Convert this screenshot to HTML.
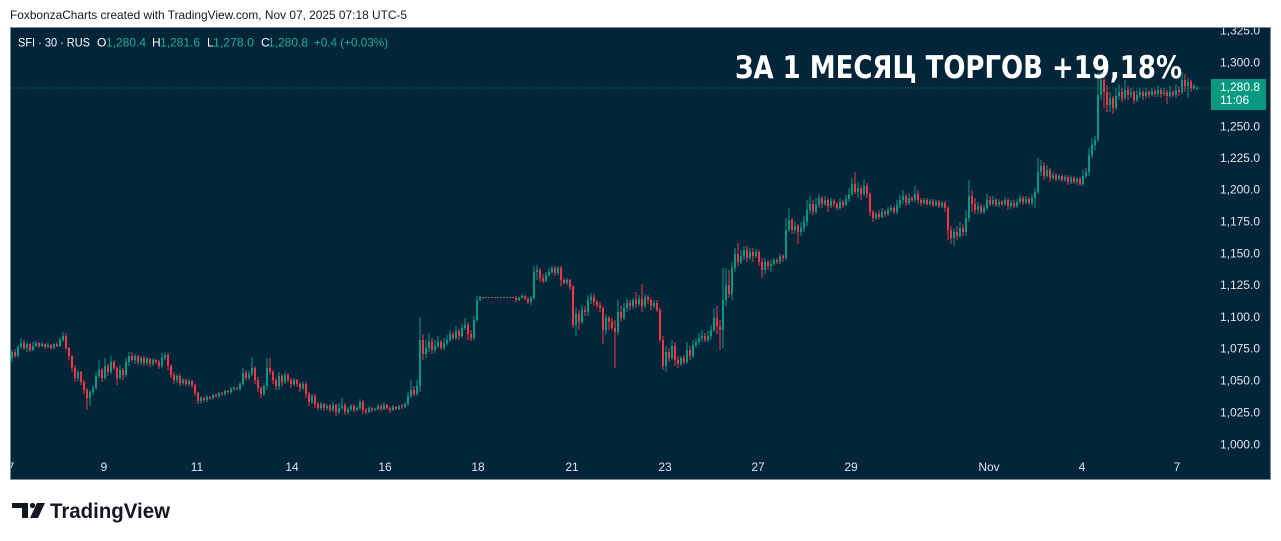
<!DOCTYPE html>
<html><head><meta charset="utf-8">
<style>
html,body{margin:0;padding:0;background:#fff;width:1281px;height:541px;overflow:hidden}
svg{display:block}
</style></head><body>
<svg width="1281" height="541" xmlns="http://www.w3.org/2000/svg" font-family="'Liberation Sans', sans-serif">
<defs>
<clipPath id="cp"><rect x="11" y="28" width="1259" height="451"/></clipPath>
<clipPath id="cpp"><rect x="11" y="28" width="1196" height="420"/></clipPath>
</defs>
<text x="10" y="19" font-size="12" fill="#131722" textLength="397" lengthAdjust="spacingAndGlyphs">FoxbonzaCharts created with TradingView.com, Nov 07, 2025 07:18 UTC-5</text>
<rect x="10.5" y="27.5" width="1260" height="452" fill="#02253a" stroke="#7d8d98"/>

<g clip-path="url(#cpp)" fill="none">
<path stroke="#089981" stroke-width="1" d="M12 350V362M18 345V357M21 338V349M27 342V352M33 342V351M36 341V347M42 342V347M48 343V348M54 343V349M60 337V347M63 332V342M78 370V381M90 390V406M93 385V395M96 372V390M99 360V378M105 358V380M111 356V374M120 365V380M126 358V377M129 352V366M135 354V364M141 356V365M147 357V366M153 358V366M162 353V368M165 352V360M177 374V383M183 378V385M189 379V386M201 396V404M207 395V402M213 394V400M219 392V398M225 390V396M231 387V394M234 386V391M240 382V391M243 368V386M249 371V380M252 357V376M264 383V396M267 358V390M279 372V390M285 372V384M294 378V386M303 382V390M312 394V404M321 402V410M327 404V410M333 402V412M339 403V414M342 398V410M348 407V414M351 404V411M357 406V411M360 399V410M369 406V413M375 408V411M378 404V410M384 402V410M393 405V411M399 405V410M405 402V408M408 392V406M411 380V398M417 380V396M420 317V392M426 340V358M429 333V352M435 340V353M438 336V348M444 338V350M447 335V345M450 330V342M456 326V340M462 324V338M465 318V330M474 316V340M477 296V322M480 296V301M486 297V298M492 297V298M498 297V298M504 297V298M510 297V298M519 297V301M522 294V298M531 296V305M534 266V300M537 265V280M546 272V282M549 268V277M552 266V274M558 266V275M567 278V285M576 308V336M582 305V324M588 295V316M591 293V304M606 314V335M618 300V335M624 303V320M627 298V312M633 298V309M639 295V306M645 294V308M654 300V308M666 346V372M672 340V360M681 356V366M687 342V364M693 340V358M696 338V348M699 333V345M702 330V342M708 331V342M711 325V340M714 308V332M723 268V348M726 268V306M732 262V300M735 248V272M741 250V264M744 246V260M750 248V260M756 249V258M765 258V274M771 260V272M774 258V266M780 254V264M786 218V260M789 208V232M795 222V234M801 222V236M804 216V232M807 200V226M810 196V214M816 198V214M819 194V208M825 196V206M831 198V208M840 198V210M846 195V206M849 188V202M852 178V196M858 182V198M864 180V196M876 212V220M882 208V218M888 207V216M891 205V212M897 200V214M900 195V208M903 190V204M909 193V205M915 186V202M924 198V205M930 199V206M936 200V207M942 201V208M954 228V246M960 222V238M966 210V236M969 180V222M978 202V214M984 205V214M987 194V210M993 196V206M999 199V207M1005 197V206M1011 200V209M1017 199V208M1020 195V204M1026 196V204M1032 194V206M1035 188V208M1038 158V194M1041 160V176M1047 165V178M1053 172V180M1059 174V181M1065 175V182M1071 176V184M1077 177V185M1083 170V186M1086 168V178M1089 148V176M1092 138V158M1095 136V150M1098 73V142M1101 72V100M1110 92V112M1116 88V110M1119 84V100M1125 80V100M1131 88V98M1137 90V102M1140 88V98M1146 88V98M1152 88V96M1158 86V97M1164 88V96M1170 86V98M1176 84V98M1182 72V94M1188 78V98M1194 84V90M1197 86V90"/>
<path stroke="#089981" stroke-width="2" d="M12 358V352M18 356V347M21 347V343M27 348V344M33 350V346M36 346V343M42 346V344M48 347V345M54 348V344M60 346V340M63 340V336M78 378V372M90 398V392M93 392V388M96 388V376M99 376V370M105 378V366M111 372V362M120 378V370M126 375V362M129 362V356M135 360V356M141 362V358M147 363V359M153 364V360M162 366V358M165 358V355M177 380V376M183 383V380M189 384V381M201 401V398M207 400V397M213 398V395M219 396V393M225 394V391M231 392V389M234 389V388M240 389V384M243 384V373M249 378V374M252 374V368M264 394V386M267 386V368M279 386V376M285 382V375M294 384V380M303 388V384M312 402V396M321 408V404M327 408V406M333 410V405M339 412V408M342 408V405M348 412V409M351 409V406M357 410V408M360 408V402M369 412V408M375 410V409M378 409V406M384 409V405M393 410V407M399 409V406M405 407V404M408 404V396M411 396V390M417 394V386M420 386V340M426 354V348M429 348V342M435 350V346M438 346V342M444 348V343M447 343V340M450 340V334M456 338V331M462 336V328M465 328V325M474 338V320M477 320V300M480 300V297M486 298V297M492 298V297M498 298V297M504 298V297M510 298V297M519 300V298M522 298V296M531 302V298M534 298V272M537 272V270M546 281V275M549 275V272M552 272V268M558 273V268M567 283V280M576 325V314M582 322V310M588 312V300M591 300V297M606 330V318M618 332V312M624 318V308M627 308V303M633 306V300M639 304V299M645 306V297M654 306V303M666 366V352M672 358V346M681 364V358M687 362V350M693 356V345M696 345V342M699 342V338M702 338V336M708 340V336M711 336V330M714 330V318M723 330V300M726 300V285M732 294V268M735 268V254M741 262V256M744 256V250M750 258V252M756 256V252M765 270V262M771 266V264M774 264V260M780 262V256M786 258V230M789 230V220M795 230V226M801 232V228M804 228V222M807 222V210M810 210V204M816 212V205M819 205V198M825 204V200M831 206V201M840 208V202M846 205V199M849 199V194M852 194V184M858 192V188M864 194V186M876 218V214M882 217V212M888 214V210M891 210V208M897 212V205M900 205V200M903 200V196M909 203V198M915 200V194M924 203V200M930 204V201M936 205V202M942 206V203M954 238V232M960 236V228M966 232V218M969 218V196M978 210V206M984 212V208M987 208V200M993 204V200M999 205V202M1005 204V200M1011 206V203M1017 206V202M1020 202V198M1026 202V199M1032 203V198M1035 198V192M1038 192V172M1041 172V166M1047 176V170M1053 178V175M1059 179V176M1065 180V177M1071 182V178M1077 182V179M1083 184V176M1086 176V172M1089 172V155M1092 155V145M1095 145V140M1098 140V95M1101 95V80M1110 105V98M1116 108V96M1119 96V92M1125 98V90M1131 95V92M1137 100V95M1140 95V92M1146 96V92M1152 95V91M1158 94V90M1164 94V92M1170 96V92M1176 95V90M1182 92V80M1188 86V82M1194 88V86M1197 89V88"/>
<path stroke="#f23645" stroke-width="1" d="M15 349V358M24 340V350M30 343V352M39 342V348M45 343V349M51 344V350M57 342V347M66 333V350M69 347V360M72 355V372M75 365V382M81 371V385M84 380V394M87 388V410M102 368V382M108 364V376M114 360V370M117 366V385M123 368V380M132 352V362M138 355V364M144 356V366M150 358V367M156 359V364M159 360V369M168 353V370M171 364V378M174 372V384M180 374V386M186 379V386M192 380V388M195 384V396M198 392V404M204 397V402M210 396V400M216 393V398M222 392V396M228 390V394M237 387V390M246 370V381M255 366V384M258 377V392M261 386V398M270 358V375M273 370V384M276 378V390M282 374V386M288 373V382M291 378V388M297 379V387M300 382V392M306 382V398M309 392V406M315 394V408M318 402V410M324 403V411M330 404V412M336 404V416M345 403V415M354 404V412M363 400V414M366 408V414M372 407V412M381 404V411M387 404V410M390 406V413M396 406V410M402 404V409M414 386V396M423 334V360M432 338V354M441 340V350M453 332V340M459 329V340M468 322V340M471 330V341M483 297V299M489 297V298M495 297V298M501 297V298M507 297V298M513 297V298M516 296V302M525 295V300M528 297V304M540 268V282M543 274V283M555 266V276M561 266V286M564 278V284M570 279V290M573 285V328M579 310V330M585 306V316M594 294V306M597 300V308M600 302V312M603 306V344M609 316V330M612 318V330M615 320V368M621 306V322M630 300V310M636 292V308M642 284V312M648 295V304M651 298V310M657 300V312M660 308V342M663 336V370M669 348V362M675 342V366M678 356V368M684 355V364M690 346V360M705 333V342M717 306V334M720 320V350M729 270V298M738 243V266M747 246V262M753 248V262M759 250V266M762 258V278M768 260V270M777 258V264M783 254V262M792 218V234M798 224V244M813 200V215M822 196V208M828 198V212M834 199V207M837 202V210M843 200V208M855 172V194M861 185V200M867 183V198M870 192V216M873 210V222M879 210V219M885 210V217M894 206V214M906 194V206M912 196V202M918 190V204M921 198V206M927 198V206M933 199V207M939 200V208M945 201V212M948 206V240M951 226V244M957 226V240M963 224V236M972 190V212M975 198V214M981 204V214M990 196V206M996 198V207M1002 200V206M1008 198V210M1014 200V208M1023 196V205M1029 197V205M1044 162V180M1050 168V182M1056 173V181M1062 174V182M1068 175V185M1074 176V184M1080 177V186M1104 75V108M1107 85V112M1113 96V114M1122 88V102M1128 86V100M1134 90V104M1143 90V100M1149 90V98M1155 89V97M1161 88V98M1167 90V104M1173 90V97M1179 86V96M1185 74V92M1191 80V92"/>
<path stroke="#f23645" stroke-width="2" d="M15 352V356M24 343V348M30 344V350M39 343V346M45 344V347M51 345V348M57 344V346M66 336V348M69 348V356M72 356V368M75 368V378M81 372V382M84 382V390M87 390V398M102 370V378M108 366V372M114 362V368M117 368V378M123 370V375M132 356V360M138 356V362M144 358V363M150 359V364M156 360V362M159 362V366M168 355V366M171 366V375M174 375V380M180 376V383M186 380V384M192 381V385M195 385V393M198 393V401M204 398V400M210 397V398M216 395V396M222 393V394M228 391V392M237 388V389M246 373V378M255 368V380M258 380V388M261 388V394M270 368V372M273 372V380M276 380V386M282 376V382M288 375V380M291 380V384M297 380V384M300 384V388M306 384V394M309 394V402M315 396V404M318 404V408M324 404V408M330 406V410M336 405V412M345 405V412M354 406V410M363 402V410M366 410V412M372 408V410M381 406V409M387 405V408M390 408V410M396 407V409M402 406V407M414 390V394M423 340V354M432 342V350M441 342V348M453 334V338M459 331V336M468 325V334M471 334V338M483 297V298M489 297V298M495 297V298M501 297V298M507 297V298M513 297V298M516 298V300M525 296V299M528 299V302M540 270V278M543 278V281M555 268V273M561 268V280M564 280V283M570 280V287M573 287V325M579 314V322M585 310V312M594 297V302M597 302V305M600 305V308M603 308V330M609 318V322M612 322V328M615 328V332M621 312V318M630 303V306M636 300V304M642 299V306M648 297V300M651 300V306M657 303V310M660 310V340M663 340V366M669 352V358M675 346V360M678 360V364M684 358V362M690 350V356M705 336V340M717 318V326M720 326V330M729 285V294M738 254V262M747 250V258M753 252V256M759 252V262M762 262V270M768 262V266M777 260V262M783 256V258M792 220V230M798 226V232M813 204V212M822 198V204M828 200V206M834 201V204M837 204V208M843 202V205M855 184V192M861 188V194M867 186V194M870 194V212M873 212V218M879 214V217M885 212V214M894 208V212M906 196V203M912 198V200M918 194V200M921 200V203M927 200V204M933 201V205M939 202V206M945 203V208M948 208V230M951 230V238M957 232V236M963 228V232M972 196V204M975 204V210M981 206V212M990 200V204M996 200V205M1002 202V204M1008 200V206M1014 203V206M1023 198V202M1029 199V203M1044 166V176M1050 170V178M1056 175V179M1062 176V180M1068 177V182M1074 178V182M1080 179V184M1104 80V92M1107 92V105M1113 98V108M1122 92V98M1128 90V95M1134 92V100M1143 92V96M1149 92V95M1155 91V94M1161 90V94M1167 92V96M1173 92V95M1179 90V92M1185 80V86M1191 82V88"/>
</g>

<line x1="11" y1="88" x2="1210" y2="88" stroke="#089981" stroke-width="1" stroke-dasharray="1 2"/>

<g font-size="12" fill="#ffffff">
<text x="18" y="46.5" textLength="72" lengthAdjust="spacingAndGlyphs">SFI · 30 · RUS</text>
<text x="97" y="46.5">O</text>
<text x="106" y="46.5" fill="#22ab94" textLength="40" lengthAdjust="spacingAndGlyphs">1,280.4</text>
<text x="152" y="46.5">H</text>
<text x="160" y="46.5" fill="#22ab94" textLength="40" lengthAdjust="spacingAndGlyphs">1,281.6</text>
<text x="207" y="46.5">L</text>
<text x="213" y="46.5" fill="#22ab94" textLength="41" lengthAdjust="spacingAndGlyphs">1,278.0</text>
<text x="261" y="46.5">C</text>
<text x="268" y="46.5" fill="#22ab94" textLength="40" lengthAdjust="spacingAndGlyphs">1,280.8</text>
<text x="314" y="46.5" fill="#22ab94" textLength="74" lengthAdjust="spacingAndGlyphs">+0.4 (+0.03%)</text>
</g>

<text x="735" y="78" font-family="'DejaVu Sans', 'Liberation Sans', sans-serif" font-weight="bold" font-size="31" fill="#ffffff" textLength="447" lengthAdjust="spacingAndGlyphs">ЗА 1 МЕСЯЦ ТОРГОВ +19,18%</text>

<g font-size="12" fill="#dfe3ea" text-anchor="end" clip-path="url(#cp)">
<text x="1260" y="34.5">1,325.0</text>
<text x="1260" y="66.5">1,300.0</text>
<text x="1260" y="130.5">1,250.0</text>
<text x="1260" y="162">1,225.0</text>
<text x="1260" y="193.5">1,200.0</text>
<text x="1260" y="225.5">1,175.0</text>
<text x="1260" y="257.5">1,150.0</text>
<text x="1260" y="289">1,125.0</text>
<text x="1260" y="321">1,100.0</text>
<text x="1260" y="352.5">1,075.0</text>
<text x="1260" y="384.5">1,050.0</text>
<text x="1260" y="416.5">1,025.0</text>
<text x="1260" y="448.5">1,000.0</text>
</g>
<rect x="1211" y="79" width="55" height="31" fill="#089981"/>
<text x="1220" y="91" font-size="12" fill="#ffffff">1,280.8</text>
<text x="1220" y="104" font-size="12" fill="#ffffff">11:06</text>

<g font-size="12" fill="#dfe3ea" text-anchor="middle" clip-path="url(#cp)">
<text x="11" y="471">7</text>
<text x="104" y="471">9</text>
<text x="197" y="471">11</text>
<text x="292" y="471">14</text>
<text x="385" y="471">16</text>
<text x="478" y="471">18</text>
<text x="572" y="471">21</text>
<text x="665" y="471">23</text>
<text x="758" y="471">27</text>
<text x="851" y="471">29</text>
<text x="989" y="471">Nov</text>
<text x="1082" y="471">4</text>
<text x="1177" y="471">7</text>
</g>

<g fill="#131722">
<rect x="12" y="503" width="16" height="5"/>
<rect x="22" y="503" width="6" height="15"/>
<circle cx="32.5" cy="505.5" r="2.6"/>
<polygon points="37,503 45,503 38,518 30,518"/>
<text x="50" y="518" font-size="21" font-weight="bold" textLength="120" lengthAdjust="spacingAndGlyphs">TradingView</text>
</g>
</svg>
</body></html>
